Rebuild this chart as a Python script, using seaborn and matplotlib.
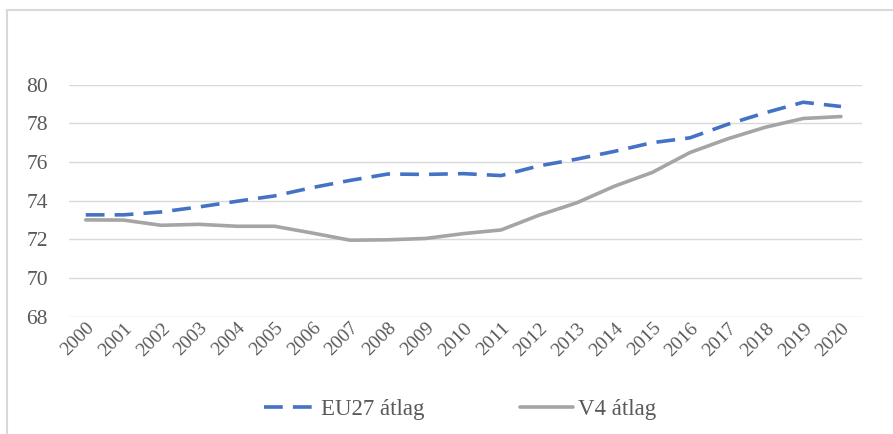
import pandas as pd
import matplotlib
matplotlib.use("Agg")
import matplotlib.pyplot as plt
from matplotlib.lines import Line2D
import seaborn as sns

years = [str(y) for y in range(2000, 2021)]
eu27 = [73.27, 73.27, 73.42, 73.68, 73.97, 74.25, 74.68, 75.05, 75.38, 75.36,
        75.40, 75.30, 75.80, 76.15, 76.55, 77.00, 77.25, 77.95, 78.55, 79.09, 78.87]
v4 = [73.01, 73.00, 72.73, 72.78, 72.68, 72.68, 72.33, 71.96, 71.98, 72.05,
      72.30, 72.49, 73.25, 73.89, 74.75, 75.46, 76.49, 77.20, 77.80, 78.25, 78.35]

df = pd.DataFrame({"Év": years * 2,
                   "érték": eu27 + v4,
                   "sorozat": ["EU27 átlag"] * len(years) + ["V4 átlag"] * len(years)})

sns.set_style("white")
plt.rcParams["font.family"] = ["Liberation Serif", "DejaVu Serif"]
text_col = "#595959"

fig = plt.figure(figsize=(8.93, 4.34), dpi=100)
ax = fig.add_axes([0.077, 0.270, 0.888, 0.535])

sns.lineplot(data=df, x="Év", y="érték", hue="sorozat", style="sorozat",
             palette={"EU27 átlag": "#4472C4", "V4 átlag": "#A5A5A5"},
             dashes={"EU27 átlag": (5.2, 2.8), "V4 átlag": ""},
             linewidth=2.6, ax=ax, sort=False)

ax.set_ylim(68, 80)
ax.set_yticks(range(68, 81, 2))
ax.set_xlim(-0.45, 20.55)
ax.grid(axis="y", color="#D9D9D9", linewidth=1)
ax.set_axisbelow(True)
for s in ax.spines.values():
    s.set_visible(False)
ax.set_xlabel("")
ax.set_ylabel("")
ax.tick_params(axis="y", colors=text_col, labelsize=15.5, length=0, pad=15)
ax.tick_params(axis="x", colors=text_col, labelsize=14, length=0, pad=2)
for lab in ax.get_xticklabels():
    lab.set_rotation(45)
    lab.set_ha("right")
    lab.set_rotation_mode("anchor")

handles, labels = ax.get_legend_handles_labels()
ax.legend(handles, labels, loc="center", bbox_to_anchor=(0.493, -0.40),
          ncol=2, frameon=False, fontsize=16.5, labelcolor=text_col,
          handlelength=2.3, columnspacing=4.2, handletextpad=0.2)

# chart frame
fig.add_artist(Line2D([6.5 / 893, 6.5 / 893], [0, 1 - 9.5 / 434],
                      transform=fig.transFigure, color="#D9D9D9", linewidth=1.5))
fig.add_artist(Line2D([6.5 / 893, 1], [1 - 9.5 / 434, 1 - 9.5 / 434],
                      transform=fig.transFigure, color="#D9D9D9", linewidth=1.5))

fig.savefig("out.png", dpi=100)
